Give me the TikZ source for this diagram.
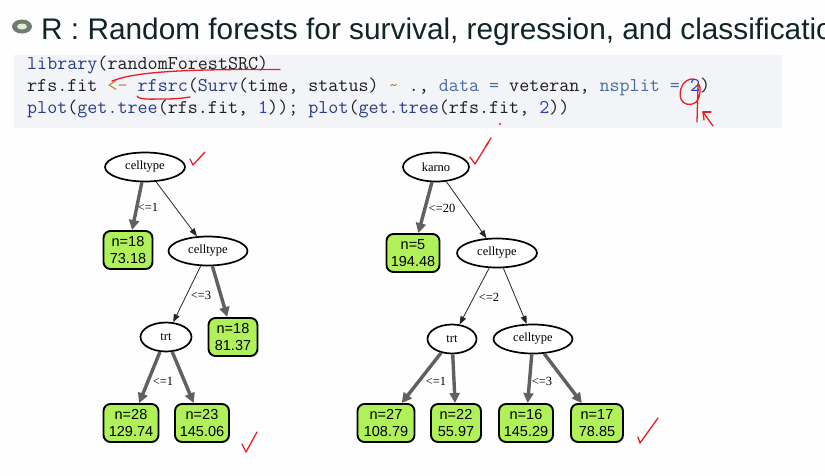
\documentclass[tikz,border=0pt]{standalone}
\usepackage{fontspec}
\setmainfont{Liberation Serif}
\newfontfamily\titlefont{Liberation Sans}
\newfontfamily\leaffont{Liberation Sans}
\usetikzlibrary{shapes.geometric,arrows.meta}

\definecolor{slidebg}{RGB}{254,254,254}
\definecolor{codebg}{RGB}{243,244,248}
\definecolor{titlecol}{RGB}{16,38,38}
\definecolor{bulletout}{RGB}{112,122,112}
\definecolor{bulletin}{RGB}{222,238,206}
\definecolor{fncol}{RGB}{40,62,130}
\definecolor{argcol}{RGB}{72,108,160}
\definecolor{numcol}{RGB}{40,56,210}
\definecolor{opcol}{RGB}{196,128,60}
\definecolor{codetext}{RGB}{30,30,30}
\definecolor{leafgreen}{RGB}{176,240,88}
\definecolor{heavygray}{RGB}{96,96,96}
\definecolor{penred}{RGB}{232,30,36}

\newcommand{\fn}[1]{\textcolor{fncol}{#1}}
\newcommand{\ar}[1]{\textcolor{argcol}{#1}}
\newcommand{\nm}[1]{\textcolor{numcol}{#1}}
\newcommand{\op}[1]{\textcolor{opcol}{#1}}

\tikzset{
  splitnode/.style={ellipse, draw, line width=1.7pt, fill=white, inner sep=0pt,
    minimum height=29pt, font=\fontsize{12.5}{14}\selectfont},
  leafnode/.style={rectangle, rounded corners=7pt, draw, line width=1.9pt,
    fill=leafgreen, inner sep=0pt, minimum height=38pt, align=center,
    font=\leaffont\fontsize{14.5}{17}\selectfont},
  heavyedge/.style={draw=heavygray, line width=3.4pt,
    -{Triangle[length=10pt,width=10pt]}},
  lightedge/.style={draw=black!85, line width=0.8pt,
    -{Triangle[length=8pt,width=6pt]}},
  edgelabel/.style={inner sep=0pt, font=\fontsize{12.5}{14}\selectfont},
  codeline/.style={anchor=base west, inner sep=0pt, text=codetext,
    font=\ttfamily\fontsize{19.5}{22}\selectfont},
  pen/.style={draw=penred, line width=1.3pt, line cap=round, line join=round},
}

\begin{document}
\begin{tikzpicture}[x=1pt,y=-1pt]
  % page
  \fill[slidebg] (0,0) rectangle (825,475);
  \useasboundingbox (0,0) rectangle (825,475);

  % title with bullet (the heading runs past the right edge of the slide)
  \fill[bulletout] (22,26.5) ellipse [x radius=10, y radius=7];
  \fill[bulletin] (22,26.5) ellipse [x radius=5, y radius=3];
  \begin{scope}
    \clip (0,0) rectangle (825,475);
    \node[anchor=base west, inner sep=0pt, text=titlecol,
      font=\titlefont\fontsize{29.8}{32}\selectfont] (title) at (41,39)
      {R : Random forests for survival, regression, and classification};
  \end{scope}

  % code block
  \fill[codebg] (14,55) rectangle (782,128);
  \node[codeline] (code1) at (27,69) {\fn{library}(randomForestSRC)};
  \node[codeline] (code2) at (27,91)
    {rfs.fit \op{<-} \fn{rfsrc}(\fn{Surv}(time, status) \op{\textasciitilde} ., \ar{data} \ar{=} veteran, \ar{nsplit} \ar{=} \nm{2})};
  \node[codeline] (code3) at (27,113)
    {\fn{plot}(\fn{get.tree}(rfs.fit, \nm{1})); \fn{plot}(\fn{get.tree}(rfs.fit, \nm{2}))};

  % pen marks on the code
  \draw[pen] (112,81) .. controls (135,72) and (180,69) .. (280,69.5);
  \draw[pen] (137,96) .. controls (139,100) and (150,99) .. (165,99)
    .. controls (176,99) and (184,98) .. (190,97);
  \draw[pen] (694,79) .. controls (683,78) and (678,91) .. (681,99)
    .. controls (684,107) and (697,106) .. (699,97)
    .. controls (701,90) and (700,84) .. (698,84) -- (697,122);
  \draw[pen] (713,126) -- (703,112);
  \draw[pen] (703,112) -- (711,112);
  \draw[pen] (703,112) -- (704,120);
  \fill[penred] (500,124) circle (1.1);
  \draw[pen] (491,138) -- (486,146);

  % first tree
  \node[splitnode, minimum width=80pt] (a1) at (145,167) {celltype};
  \node[leafnode, minimum width=49pt] (a2) at (128,250) {n=18\\73.18};
  \node[splitnode, minimum width=79pt] (a3) at (208,251) {celltype};
  \node[splitnode, minimum width=51pt] (a4) at (166,337) {trt};
  \node[leafnode, minimum width=49pt] (a5) at (233,337) {n=18\\81.37};
  \node[leafnode, minimum width=55pt] (a6) at (131,423) {n=28\\129.74};
  \node[leafnode, minimum width=54pt] (a7) at (202,423) {n=23\\145.06};

  \draw[heavyedge] (a1) -- (a2);
  \draw[lightedge] (a1) -- (a3);
  \draw[lightedge] (a3) -- (a4);
  \draw[heavyedge] (a3) -- (a5);
  \draw[heavyedge] (a4) -- (a6);
  \draw[heavyedge] (a4) -- (a7);
  \node[edgelabel] (la1) at (148,207) {<=1};
  \node[edgelabel] (la3) at (201,295) {<=3};
  \node[edgelabel] (la4) at (163,381) {<=1};

  % second tree
  \node[splitnode, minimum width=66pt] (b1) at (436,167) {karno};
  \node[leafnode, minimum width=53pt] (b2) at (413,253) {n=5\\194.48};
  \node[splitnode, minimum width=80pt] (b3) at (497,253) {celltype};
  \node[splitnode, minimum width=49pt] (b4) at (452,339) {trt};
  \node[splitnode, minimum width=79pt] (b5) at (533,339) {celltype};
  \node[leafnode, minimum width=57pt] (b6) at (386,423) {n=27\\108.79};
  \node[leafnode, minimum width=50pt] (b7) at (456,423) {n=22\\55.97};
  \node[leafnode, minimum width=54pt] (b8) at (526,423) {n=16\\145.29};
  \node[leafnode, minimum width=52pt] (b9) at (597,423) {n=17\\78.85};

  \draw[heavyedge] (b1) -- (b2);
  \draw[lightedge] (b1) -- (b3);
  \draw[lightedge] (b3) -- (b4);
  \draw[lightedge] (b3) -- (b5);
  \draw[heavyedge] (b4) -- (b6);
  \draw[heavyedge] (b4) -- (b7);
  \draw[heavyedge] (b5) -- (b8);
  \draw[heavyedge] (b5) -- (b9);
  \node[edgelabel] (lb1) at (442,208) {<=20};
  \node[edgelabel] (lb3) at (489,297) {<=2};
  \node[edgelabel] (lb4) at (436,381) {<=1};
  \node[edgelabel] (lb5) at (542,381) {<=3};

  % check marks
  \draw[pen] (190,159) -- (193,165) -- (205,152);
  \draw[pen] (470,157) -- (475,164) -- (488,143);
  \draw[pen] (242,444) -- (246,452) -- (257,432);
  \draw[pen] (638,437) -- (640,443) -- (658,418);
\end{tikzpicture}
\end{document}
